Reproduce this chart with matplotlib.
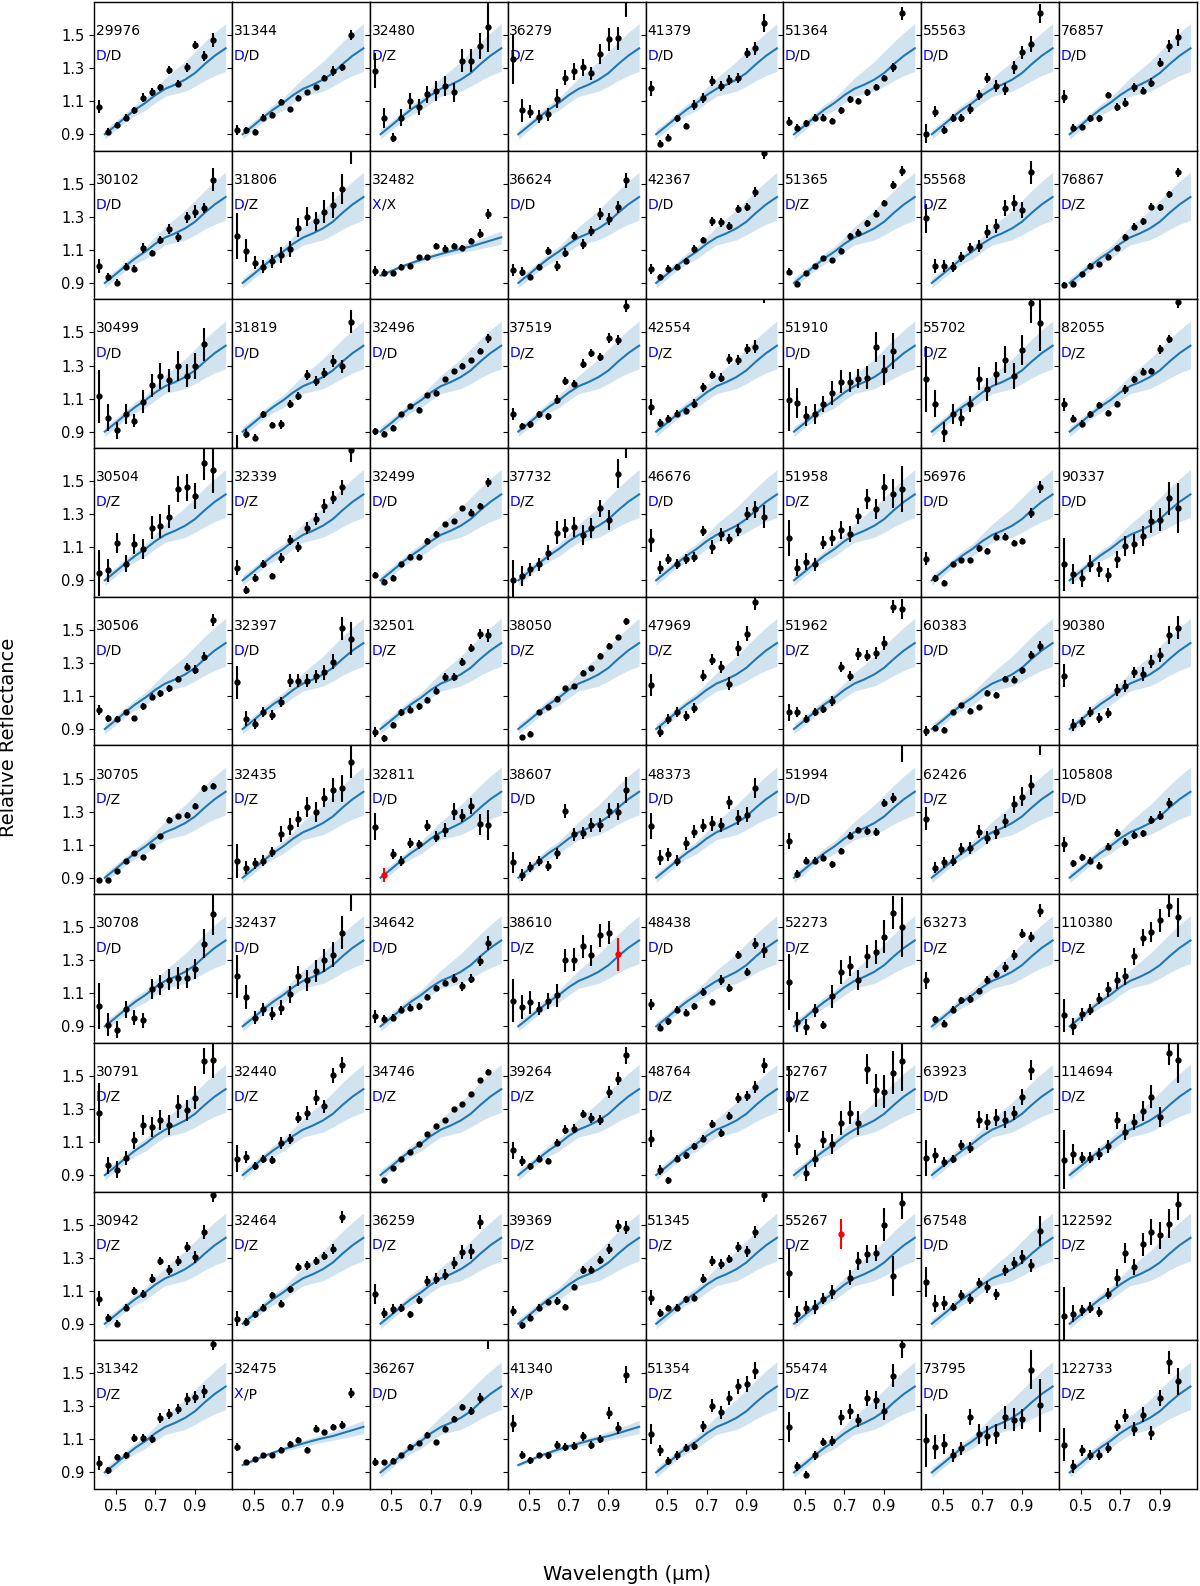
import numpy as np
import matplotlib
matplotlib.use('Agg')
import matplotlib.pyplot as plt

nan = float('nan')

# Gaia band centres (micron)
wl = [0.418, 0.462, 0.506, 0.550, 0.594, 0.638, 0.682, 0.726,
      0.770, 0.814, 0.858, 0.902, 0.946, 0.990]

# template grid and class templates (mean, lower, upper)
wl_tpl = [0.445, 0.50, 0.55, 0.60, 0.65, 0.70, 0.75, 0.80, 0.85, 0.90, 0.95, 1.00, 1.055]
d_mean = [0.90, 0.953, 1.003, 1.05, 1.09, 1.137, 1.175, 1.20, 1.23, 1.27, 1.325, 1.375, 1.42]
d_lo = [0.87, 0.925, 0.975, 1.015, 1.045, 1.09, 1.13, 1.145, 1.16, 1.19, 1.225, 1.255, 1.28]
d_hi = [0.93, 0.98, 1.03, 1.08, 1.12, 1.18, 1.24, 1.29, 1.34, 1.40, 1.46, 1.515, 1.57]
x_mean = [0.945, 0.972, 0.998, 1.02, 1.04, 1.058, 1.075, 1.092, 1.107, 1.12, 1.138, 1.156, 1.176]
x_lo = [0.935, 0.962, 0.988, 1.007, 1.025, 1.042, 1.057, 1.07, 1.083, 1.094, 1.107, 1.12, 1.135]
x_hi = [0.955, 0.982, 1.008, 1.032, 1.055, 1.075, 1.094, 1.113, 1.13, 1.147, 1.168, 1.19, 1.215]

ids = ['29976', '31344', '32480', '36279', '41379', '51364', '55563', '76857',
       '30102', '31806', '32482', '36624', '42367', '51365', '55568', '76867',
       '30499', '31819', '32496', '37519', '42554', '51910', '55702', '82055',
       '30504', '32339', '32499', '37732', '46676', '51958', '56976', '90337',
       '30506', '32397', '32501', '38050', '47969', '51962', '60383', '90380',
       '30705', '32435', '32811', '38607', '48373', '51994', '62426', '105808',
       '30708', '32437', '34642', '38610', '48438', '52273', '63273', '110380',
       '30791', '32440', '34746', '39264', '48764', '52767', '63923', '114694',
       '30942', '32464', '36259', '39369', '51345', '55267', '67548', '122592',
       '31342', '32475', '36267', '41340', '51354', '55474', '73795', '122733']

cls_a = ['D', 'D', 'D', 'D', 'D', 'D', 'D', 'D',
         'D', 'D', 'X', 'D', 'D', 'D', 'D', 'D',
         'D', 'D', 'D', 'D', 'D', 'D', 'D', 'D',
         'D', 'D', 'D', 'D', 'D', 'D', 'D', 'D',
         'D', 'D', 'D', 'D', 'D', 'D', 'D', 'D',
         'D', 'D', 'D', 'D', 'D', 'D', 'D', 'D',
         'D', 'D', 'D', 'D', 'D', 'D', 'D', 'D',
         'D', 'D', 'D', 'D', 'D', 'D', 'D', 'D',
         'D', 'D', 'D', 'D', 'D', 'D', 'D', 'D',
         'D', 'X', 'D', 'X', 'D', 'D', 'D', 'D']

cls_b = ['D', 'D', 'Z', 'Z', 'D', 'D', 'D', 'D',
         'D', 'Z', 'X', 'D', 'D', 'Z', 'Z', 'Z',
         'D', 'D', 'D', 'Z', 'Z', 'D', 'Z', 'Z',
         'Z', 'Z', 'D', 'Z', 'D', 'Z', 'D', 'D',
         'D', 'D', 'Z', 'Z', 'Z', 'Z', 'D', 'Z',
         'Z', 'Z', 'D', 'D', 'D', 'D', 'Z', 'D',
         'D', 'D', 'D', 'Z', 'D', 'Z', 'Z', 'Z',
         'Z', 'Z', 'Z', 'Z', 'Z', 'Z', 'D', 'Z',
         'Z', 'Z', 'Z', 'Z', 'Z', 'Z', 'D', 'Z',
         'Z', 'P', 'D', 'P', 'Z', 'Z', 'D', 'Z']

refl = [
    [1.066, 0.916, 0.955, 1.001, 1.045, 1.122, 1.157, 1.183, 1.288, 1.207, 1.304, 1.44, 1.375, 1.47],
    [0.924, 0.924, 0.914, 1.0, 1.017, 1.096, 1.05, 1.122, 1.153, 1.183, 1.24, 1.284, 1.304, 1.498],
    [1.284, 1.0, 0.88, 1.0, 1.102, 1.066, 1.142, 1.163, 1.19, 1.153, 1.344, 1.344, 1.435, 1.55],
    [1.355, 1.045, 1.037, 1.005, 1.021, 1.116, 1.243, 1.28, 1.304, 1.268, 1.385, 1.476, 1.482, 1.75],
    [1.179, 0.843, 0.88, 0.997, 0.95, 1.078, 1.122, 1.223, 1.193, 1.227, 1.24, 1.389, 1.42, 1.571],
    [0.977, 0.94, 0.965, 1.0, 1.0, 0.981, 1.045, 1.112, 1.102, 1.153, 1.187, 1.24, 1.304, 1.631],
    [0.904, 1.037, 0.924, 0.997, 0.997, 1.052, 1.138, 1.24, 1.193, 1.173, 1.304, 1.395, 1.445, 1.631],
    [1.126, 0.94, 0.944, 0.997, 0.997, 1.138, 1.066, 1.092, 1.183, 1.163, 1.213, 1.334, 1.435, 1.486],
    [1.003, 0.936, 0.902, 0.999, 0.987, 1.11, 1.08, 1.159, 1.225, 1.175, 1.296, 1.332, 1.353, 1.524],
    [1.185, 1.094, 1.023, 0.997, 1.03, 1.07, 1.104, 1.235, 1.302, 1.272, 1.332, 1.373, 1.468, 1.74],
    [0.973, 0.963, 0.959, 0.999, 1.003, 1.054, 1.054, 1.124, 1.108, 1.124, 1.114, 1.154, 1.199, 1.316],
    [0.977, 0.969, 0.936, 0.997, 1.094, 1.003, 1.084, 1.185, 1.134, 1.215, 1.316, 1.286, 1.361, 1.522],
    [0.983, 0.936, 0.987, 0.997, 1.033, 1.104, 1.159, 1.272, 1.266, 1.245, 1.346, 1.361, 1.448, 1.684],
    [0.969, 0.896, 0.957, 1.001, 1.049, 1.037, 1.094, 1.181, 1.205, 1.26, 1.32, 1.383, 1.494, 1.575],
    [1.29, 1.003, 1.003, 0.999, 1.058, 1.114, 1.124, 1.211, 1.245, 1.353, 1.383, 1.342, 1.569, nan],
    [0.888, 0.896, 0.953, 1.003, 1.013, 1.058, 1.114, 1.175, 1.241, 1.272, 1.361, 1.357, 1.437, 1.569],
    [1.114, 0.985, 0.908, 1.009, 0.965, 1.08, 1.181, 1.235, 1.211, 1.296, 1.239, 1.296, 1.429, nan],
    [0.78, 0.888, 0.864, 1.005, 0.939, 0.943, 1.066, 1.117, 1.242, 1.207, 1.256, 1.327, 1.296, 1.565],
    [0.902, 0.888, 0.924, 1.005, 1.053, 1.033, 1.12, 1.135, 1.217, 1.265, 1.3, 1.332, 1.389, 1.464],
    [1.005, 0.934, 0.943, 1.005, 0.993, 1.094, 1.207, 1.191, 1.312, 1.377, 1.353, 1.468, 1.454, 1.662],
    [1.05, 0.953, 0.979, 1.009, 1.025, 1.07, 1.167, 1.242, 1.227, 1.342, 1.336, 1.399, 1.413, 1.74],
    [1.094, 1.074, 0.993, 1.009, 1.066, 1.134, 1.201, 1.201, 1.221, 1.227, 1.413, 1.272, 1.389, nan],
    [1.221, 1.07, 0.898, 1.009, 0.985, 1.066, 1.221, 1.155, 1.251, 1.336, 1.235, 1.393, 1.676, 1.555],
    [1.066, 0.979, 0.948, 1.005, 1.06, 1.013, 1.066, 1.155, 1.217, 1.262, 1.266, 1.397, 1.46, 1.686],
    [0.946, 0.961, 1.128, 1.001, 1.122, 1.088, 1.219, 1.229, 1.284, 1.452, 1.462, 1.411, 1.607, 1.567],
    [0.977, 0.839, 0.912, 0.997, 0.926, 1.037, 1.142, 1.104, 1.215, 1.27, 1.35, 1.401, 1.462, 1.688],
    [0.932, 0.892, 0.916, 0.997, 1.043, 1.043, 1.138, 1.183, 1.239, 1.256, 1.336, 1.31, 1.35, 1.492],
    [0.9, 0.926, 0.967, 0.997, 1.068, 1.189, 1.213, 1.223, 1.175, 1.219, 1.336, 1.264, 1.546, 1.72],
    [1.142, 0.977, 1.027, 1.001, 1.027, 1.041, 1.199, 1.102, 1.179, 1.148, 1.203, 1.304, 1.33, 1.284],
    [1.155, 0.977, 1.013, 0.997, 1.128, 1.155, 1.203, 1.179, 1.29, 1.391, 1.33, 1.462, 1.425, 1.452],
    [1.031, 0.912, 0.886, 0.997, 1.021, 1.021, 1.094, 1.078, 1.165, 1.165, 1.128, 1.138, 1.31, 1.466],
    [0.997, 0.936, 0.912, 1.001, 0.967, 0.932, 1.027, 1.108, 1.118, 1.169, 1.256, 1.266, 1.397, 1.336],
    [1.017, 0.965, 0.961, 1.001, 0.965, 1.037, 1.096, 1.116, 1.146, 1.203, 1.274, 1.26, 1.338, 1.561],
    [1.183, 0.961, 0.93, 1.001, 0.987, 1.062, 1.193, 1.193, 1.193, 1.219, 1.243, 1.308, 1.51, 1.445],
    [0.88, 0.843, 0.924, 1.001, 1.017, 1.037, 1.076, 1.132, 1.213, 1.213, 1.304, 1.389, 1.476, 1.466],
    [nan, 0.849, 0.87, 1.001, 1.031, 1.082, 1.146, 1.159, 1.239, 1.268, 1.344, 1.405, 1.456, 1.551],
    [1.167, 0.884, 0.961, 1.001, 0.981, 1.025, 1.223, 1.32, 1.274, 1.173, 1.389, 1.476, 1.668, nan],
    [1.001, 1.001, 0.961, 1.001, 1.021, 1.072, 1.274, 1.219, 1.354, 1.344, 1.36, 1.421, 1.641, 1.627],
    [0.89, 0.906, 0.894, 1.001, 1.045, 1.011, 1.031, 1.118, 1.108, 1.203, 1.199, 1.254, 1.348, 1.405],
    [1.223, 0.924, 0.944, 1.001, 0.965, 0.997, 1.136, 1.159, 1.243, 1.233, 1.308, 1.348, 1.47, 1.512],
    [0.886, 0.886, 0.942, 1.003, 1.047, 1.027, 1.092, 1.155, 1.25, 1.272, 1.28, 1.334, 1.441, 1.454],
    [1.001, 0.961, 0.987, 1.003, 1.058, 1.163, 1.209, 1.256, 1.33, 1.296, 1.385, 1.431, 1.441, 1.603],
    [1.209, 0.916, 1.041, 1.003, 1.108, 1.101, 1.215, 1.148, 1.189, 1.3, 1.276, 1.334, 1.223, 1.219],
    [0.993, 0.916, 0.967, 1.003, 0.973, 1.047, 1.304, 1.163, 1.169, 1.219, 1.219, 1.304, 1.3, 1.431],
    [1.213, 1.021, 1.041, 1.003, 1.108, 1.179, 1.215, 1.229, 1.219, 1.357, 1.264, 1.28, 1.441, nan],
    [1.122, 0.92, 1.003, 1.003, 1.021, 0.981, 1.062, 1.155, 1.189, 1.183, 1.175, 1.35, 1.381, 1.72],
    [1.256, 0.961, 0.993, 1.003, 1.074, 1.078, 1.179, 1.142, 1.175, 1.243, 1.344, 1.391, 1.462, 1.74],
    [1.102, 0.987, 1.023, 1.003, 0.973, 1.088, 1.169, 1.118, 1.159, 1.169, 1.25, 1.276, 1.35, nan],
    [1.021, 0.91, 0.88, 1.003, 0.951, 0.936, 1.128, 1.148, 1.183, 1.193, 1.193, 1.245, 1.401, 1.583],
    [1.203, 1.078, 0.953, 1.003, 0.977, 1.013, 1.094, 1.203, 1.179, 1.235, 1.3, 1.334, 1.466, 1.74],
    [0.961, 0.946, 0.953, 1.001, 1.013, 1.021, 1.078, 1.132, 1.163, 1.189, 1.142, 1.189, 1.294, 1.405],
    [1.054, 1.017, 1.047, 1.007, 1.054, 1.088, 1.3, 1.304, 1.385, 1.33, 1.452, 1.466, 1.336, nan],
    [1.033, 0.892, 0.93, 1.001, 0.983, 1.021, 1.108, 1.047, 1.179, 1.132, 1.33, 1.229, 1.401, 1.361],
    [1.169, 0.926, 0.896, 0.997, 0.91, 1.082, 1.229, 1.264, 1.183, 1.324, 1.35, 1.441, 1.587, 1.502],
    [1.179, 0.942, 0.916, 1.001, 1.058, 1.064, 1.114, 1.179, 1.219, 1.26, 1.33, 1.462, 1.441, 1.599],
    [0.967, 0.9, 0.973, 1.001, 1.068, 1.124, 1.179, 1.203, 1.324, 1.437, 1.472, 1.543, 1.63, 1.559],
    [1.276, 0.959, 0.932, 1.003, 1.11, 1.201, 1.191, 1.235, 1.201, 1.316, 1.292, 1.369, 1.591, 1.595],
    [0.999, 1.009, 0.953, 0.999, 0.993, 1.094, 1.12, 1.247, 1.276, 1.369, 1.316, 1.504, 1.565, nan],
    [nan, 0.872, 0.942, 0.999, 1.039, 1.086, 1.151, 1.195, 1.235, 1.302, 1.328, 1.393, 1.474, 1.524],
    [1.049, 0.985, 0.953, 0.999, 0.985, 1.096, 1.175, 1.181, 1.268, 1.247, 1.235, 1.403, 1.484, 1.625],
    [1.12, 0.928, 0.868, 0.999, 1.019, 1.074, 1.12, 1.211, 1.155, 1.256, 1.369, 1.377, 1.433, 1.565],
    [1.363, 1.08, 0.912, 0.999, 1.114, 1.086, 1.215, 1.276, 1.215, 1.544, 1.413, 1.403, 1.518, 1.591],
    [1.005, 1.019, 0.979, 0.999, 1.08, 1.066, 1.235, 1.221, 1.247, 1.235, 1.276, 1.373, 1.534, nan],
    [0.993, 1.029, 1.005, 1.005, 1.029, 1.074, 1.231, 1.161, 1.221, 1.288, 1.373, 1.252, 1.639, 1.599],
    [1.052, 0.936, 0.9, 0.997, 1.098, 1.078, 1.173, 1.278, 1.225, 1.278, 1.365, 1.304, 1.455, 1.678],
    [0.93, 0.91, 0.957, 0.997, 1.072, 1.021, 1.108, 1.243, 1.253, 1.28, 1.308, 1.355, 1.547, nan],
    [1.078, 0.967, 0.991, 0.997, 0.957, 1.045, 1.159, 1.173, 1.197, 1.268, 1.334, 1.338, 1.516, nan],
    [0.977, 0.89, 0.936, 0.997, 1.031, 1.037, 1.001, 1.122, 1.223, 1.227, 1.284, 1.355, 1.49, 1.482],
    [1.058, 0.965, 0.995, 0.997, 1.047, 1.058, 1.173, 1.28, 1.26, 1.294, 1.365, 1.338, 1.455, 1.678],
    [1.207, 0.957, 0.997, 1.001, 1.052, 1.092, 1.445, 1.179, 1.28, 1.324, 1.328, 1.5, 1.187, 1.631],
    [1.153, 1.021, 1.025, 1.001, 1.076, 1.052, 1.146, 1.122, 1.078, 1.223, 1.268, 1.304, 1.254, 1.462],
    [0.944, 0.961, 0.981, 0.997, 0.971, 1.082, 1.179, 1.328, 1.243, 1.381, 1.455, 1.435, 1.506, 1.627],
    [0.957, 0.912, 0.993, 1.003, 1.108, 1.108, 1.102, 1.229, 1.256, 1.284, 1.344, 1.357, 1.391, 1.68],
    [1.054, 0.961, 0.981, 1.003, 1.003, 1.037, 1.074, 1.098, 1.037, 1.165, 1.144, 1.175, 1.189, 1.381],
    [0.961, 0.961, 0.971, 1.003, 1.054, 1.078, 1.128, 1.084, 1.163, 1.224, 1.296, 1.27, 1.35, 1.74],
    [1.195, 1.007, 0.973, 1.003, 1.003, 1.068, 1.054, 1.062, 1.118, 1.068, 1.102, 1.26, 1.169, 1.492],
    [1.134, 1.033, 0.967, 1.003, 1.047, 1.058, 1.179, 1.304, 1.264, 1.35, 1.421, 1.435, 1.516, nan],
    [1.175, 0.936, 0.886, 1.003, 1.084, 1.088, 1.235, 1.27, 1.215, 1.35, 1.336, 1.27, 1.486, 1.674],
    [1.094, 1.054, 1.074, 1.003, 1.047, 1.236, 1.135, 1.122, 1.134, 1.233, 1.219, 1.223, 1.522, 1.306],
    [1.068, 0.936, 1.033, 1.003, 1.007, 1.047, 1.183, 1.243, 1.163, 1.25, 1.138, 1.35, 1.567, 1.451],
]

err = [
    [0.04, 0.02, 0.02, 0.02, 0.02, 0.025, 0.025, 0.02, 0.025, 0.02, 0.025, 0.025, 0.03, 0.04],
    [0.03, 0.02, 0.015, 0.02, 0.015, 0.02, 0.015, 0.015, 0.015, 0.015, 0.02, 0.03, 0.02, 0.03],
    [0.105, 0.06, 0.03, 0.05, 0.05, 0.05, 0.05, 0.06, 0.06, 0.06, 0.07, 0.07, 0.08, 0.15],
    [0.15, 0.07, 0.04, 0.04, 0.04, 0.06, 0.045, 0.05, 0.05, 0.04, 0.06, 0.07, 0.07, 0.14],
    [0.045, 0.02, 0.02, 0.02, 0.02, 0.03, 0.03, 0.03, 0.03, 0.03, 0.03, 0.03, 0.04, 0.055],
    [0.03, 0.02, 0.02, 0.02, 0.02, 0.02, 0.02, 0.02, 0.02, 0.02, 0.02, 0.02, 0.025, 0.04],
    [0.06, 0.035, 0.025, 0.025, 0.025, 0.03, 0.03, 0.03, 0.035, 0.035, 0.04, 0.04, 0.05, 0.06],
    [0.04, 0.02, 0.02, 0.02, 0.02, 0.02, 0.025, 0.025, 0.025, 0.02, 0.025, 0.025, 0.035, 0.05],
    [0.04, 0.025, 0.02, 0.02, 0.02, 0.03, 0.02, 0.025, 0.03, 0.025, 0.035, 0.04, 0.03, 0.07],
    [0.14, 0.07, 0.04, 0.04, 0.04, 0.05, 0.05, 0.06, 0.06, 0.06, 0.07, 0.08, 0.09, 0.12],
    [0.03, 0.02, 0.015, 0.015, 0.015, 0.015, 0.015, 0.02, 0.02, 0.02, 0.015, 0.02, 0.025, 0.03],
    [0.035, 0.03, 0.02, 0.02, 0.025, 0.03, 0.025, 0.025, 0.03, 0.03, 0.035, 0.035, 0.035, 0.045],
    [0.03, 0.02, 0.02, 0.02, 0.02, 0.025, 0.02, 0.025, 0.025, 0.025, 0.025, 0.025, 0.03, 0.035],
    [0.02, 0.015, 0.015, 0.015, 0.015, 0.015, 0.015, 0.02, 0.02, 0.02, 0.02, 0.02, 0.025, 0.03],
    [0.09, 0.04, 0.035, 0.03, 0.03, 0.03, 0.035, 0.04, 0.04, 0.05, 0.05, 0.05, 0.07, 0.08],
    [0.02, 0.015, 0.015, 0.015, 0.015, 0.015, 0.015, 0.02, 0.02, 0.02, 0.02, 0.02, 0.02, 0.025],
    [0.16, 0.08, 0.05, 0.06, 0.04, 0.07, 0.07, 0.08, 0.07, 0.09, 0.07, 0.08, 0.1, 0.12],
    [0.1, 0.025, 0.02, 0.02, 0.02, 0.025, 0.025, 0.025, 0.03, 0.03, 0.03, 0.035, 0.04, 0.07],
    [0.02, 0.015, 0.015, 0.015, 0.015, 0.015, 0.015, 0.015, 0.015, 0.015, 0.015, 0.015, 0.02, 0.025],
    [0.035, 0.02, 0.02, 0.02, 0.02, 0.025, 0.025, 0.02, 0.03, 0.025, 0.025, 0.03, 0.03, 0.04],
    [0.05, 0.025, 0.02, 0.02, 0.02, 0.025, 0.03, 0.025, 0.025, 0.03, 0.03, 0.03, 0.04, 0.06],
    [0.19, 0.09, 0.06, 0.06, 0.05, 0.07, 0.07, 0.06, 0.06, 0.07, 0.09, 0.09, 0.11, 0.12],
    [0.2, 0.08, 0.06, 0.06, 0.05, 0.05, 0.07, 0.07, 0.07, 0.08, 0.08, 0.09, 0.12, 0.17],
    [0.04, 0.02, 0.02, 0.02, 0.02, 0.02, 0.02, 0.025, 0.02, 0.02, 0.02, 0.025, 0.025, 0.04],
    [0.14, 0.07, 0.06, 0.05, 0.06, 0.06, 0.07, 0.07, 0.07, 0.08, 0.08, 0.08, 0.1, 0.14],
    [0.045, 0.025, 0.025, 0.025, 0.02, 0.03, 0.03, 0.03, 0.035, 0.035, 0.04, 0.04, 0.045, 0.075],
    [0.02, 0.015, 0.015, 0.015, 0.015, 0.015, 0.015, 0.015, 0.015, 0.015, 0.015, 0.02, 0.02, 0.025],
    [0.12, 0.06, 0.04, 0.04, 0.045, 0.07, 0.06, 0.06, 0.06, 0.06, 0.05, 0.06, 0.09, 0.08],
    [0.07, 0.04, 0.03, 0.03, 0.03, 0.03, 0.03, 0.04, 0.04, 0.03, 0.035, 0.04, 0.05, 0.07],
    [0.11, 0.05, 0.05, 0.04, 0.04, 0.05, 0.055, 0.05, 0.05, 0.06, 0.06, 0.08, 0.09, 0.14],
    [0.04, 0.02, 0.015, 0.015, 0.015, 0.015, 0.02, 0.015, 0.02, 0.02, 0.015, 0.015, 0.03, 0.035],
    [0.16, 0.06, 0.05, 0.05, 0.045, 0.04, 0.05, 0.06, 0.06, 0.06, 0.07, 0.07, 0.1, 0.15],
    [0.03, 0.02, 0.015, 0.015, 0.015, 0.02, 0.02, 0.02, 0.02, 0.02, 0.025, 0.025, 0.025, 0.035],
    [0.1, 0.045, 0.03, 0.03, 0.03, 0.03, 0.04, 0.04, 0.04, 0.04, 0.045, 0.045, 0.07, 0.1],
    [0.03, 0.02, 0.02, 0.02, 0.02, 0.02, 0.02, 0.02, 0.025, 0.025, 0.025, 0.025, 0.03, 0.04],
    [0.02, 0.015, 0.015, 0.015, 0.015, 0.015, 0.015, 0.015, 0.015, 0.015, 0.015, 0.015, 0.015, 0.02],
    [0.065, 0.035, 0.03, 0.03, 0.03, 0.03, 0.035, 0.035, 0.035, 0.04, 0.045, 0.045, 0.05, 0.06],
    [0.05, 0.03, 0.025, 0.025, 0.025, 0.03, 0.03, 0.03, 0.035, 0.035, 0.035, 0.04, 0.04, 0.06],
    [0.03, 0.02, 0.015, 0.015, 0.015, 0.015, 0.015, 0.015, 0.015, 0.02, 0.02, 0.02, 0.025, 0.03],
    [0.07, 0.035, 0.03, 0.03, 0.03, 0.03, 0.035, 0.035, 0.035, 0.04, 0.04, 0.045, 0.055, 0.07],
    [0.015, 0.01, 0.01, 0.01, 0.01, 0.01, 0.01, 0.01, 0.015, 0.015, 0.015, 0.015, 0.02, 0.02],
    [0.1, 0.04, 0.035, 0.035, 0.03, 0.05, 0.05, 0.05, 0.06, 0.06, 0.06, 0.07, 0.08, 0.1],
    [0.08, 0.04, 0.03, 0.03, 0.03, 0.03, 0.035, 0.035, 0.04, 0.05, 0.04, 0.05, 0.065, 0.09],
    [0.065, 0.035, 0.03, 0.03, 0.03, 0.035, 0.04, 0.04, 0.035, 0.04, 0.04, 0.045, 0.05, 0.08],
    [0.08, 0.045, 0.04, 0.035, 0.04, 0.04, 0.04, 0.045, 0.045, 0.04, 0.045, 0.045, 0.06, 0.07],
    [0.05, 0.025, 0.02, 0.02, 0.02, 0.02, 0.02, 0.02, 0.02, 0.025, 0.025, 0.025, 0.03, 0.12],
    [0.07, 0.035, 0.035, 0.035, 0.035, 0.035, 0.04, 0.04, 0.04, 0.045, 0.05, 0.055, 0.06, 0.1],
    [0.045, 0.02, 0.02, 0.02, 0.02, 0.02, 0.025, 0.025, 0.025, 0.02, 0.025, 0.025, 0.03, 0.04],
    [0.14, 0.07, 0.05, 0.05, 0.045, 0.045, 0.06, 0.06, 0.065, 0.065, 0.06, 0.06, 0.09, 0.13],
    [0.13, 0.07, 0.04, 0.04, 0.04, 0.045, 0.05, 0.06, 0.065, 0.065, 0.07, 0.075, 0.1, 0.14],
    [0.04, 0.025, 0.02, 0.02, 0.02, 0.02, 0.02, 0.02, 0.02, 0.025, 0.025, 0.025, 0.03, 0.04],
    [0.13, 0.07, 0.07, 0.04, 0.05, 0.07, 0.07, 0.07, 0.07, 0.065, 0.07, 0.07, 0.1, 0.12],
    [0.035, 0.02, 0.02, 0.02, 0.02, 0.02, 0.025, 0.02, 0.03, 0.025, 0.025, 0.025, 0.035, 0.045],
    [0.17, 0.06, 0.05, 0.04, 0.025, 0.07, 0.07, 0.06, 0.06, 0.07, 0.07, 0.1, 0.1, 0.18],
    [0.05, 0.02, 0.02, 0.02, 0.02, 0.025, 0.02, 0.025, 0.025, 0.03, 0.03, 0.025, 0.03, 0.04],
    [0.1, 0.05, 0.04, 0.035, 0.035, 0.045, 0.05, 0.05, 0.05, 0.05, 0.06, 0.07, 0.07, 0.12],
    [0.18, 0.05, 0.05, 0.04, 0.05, 0.06, 0.06, 0.06, 0.06, 0.07, 0.065, 0.07, 0.08, 0.11],
    [0.08, 0.035, 0.025, 0.025, 0.025, 0.035, 0.03, 0.035, 0.04, 0.045, 0.04, 0.045, 0.05, 0.06],
    [0.01, 0.01, 0.01, 0.01, 0.01, 0.01, 0.01, 0.01, 0.01, 0.01, 0.01, 0.01, 0.01, 0.015],
    [0.05, 0.03, 0.02, 0.02, 0.02, 0.02, 0.025, 0.025, 0.025, 0.03, 0.03, 0.035, 0.04, 0.05],
    [0.05, 0.03, 0.02, 0.02, 0.02, 0.02, 0.02, 0.025, 0.025, 0.025, 0.03, 0.03, 0.035, 0.045],
    [0.2, 0.06, 0.05, 0.05, 0.05, 0.06, 0.07, 0.07, 0.07, 0.09, 0.1, 0.1, 0.13, 0.18],
    [0.11, 0.045, 0.03, 0.025, 0.03, 0.035, 0.05, 0.05, 0.05, 0.05, 0.04, 0.05, 0.06, 0.07],
    [0.18, 0.06, 0.035, 0.035, 0.035, 0.04, 0.05, 0.05, 0.05, 0.06, 0.07, 0.06, 0.07, 0.14],
    [0.045, 0.025, 0.02, 0.02, 0.025, 0.025, 0.025, 0.025, 0.03, 0.03, 0.03, 0.035, 0.04, 0.04],
    [0.045, 0.025, 0.02, 0.02, 0.02, 0.02, 0.02, 0.025, 0.025, 0.025, 0.025, 0.03, 0.035, 0.04],
    [0.06, 0.03, 0.03, 0.025, 0.02, 0.025, 0.03, 0.035, 0.035, 0.035, 0.04, 0.045, 0.045, 0.05],
    [0.03, 0.02, 0.02, 0.02, 0.02, 0.025, 0.02, 0.02, 0.025, 0.025, 0.025, 0.03, 0.035, 0.04],
    [0.045, 0.025, 0.02, 0.02, 0.02, 0.02, 0.025, 0.03, 0.03, 0.025, 0.03, 0.035, 0.035, 0.04],
    [0.15, 0.05, 0.04, 0.04, 0.035, 0.04, 0.09, 0.045, 0.055, 0.055, 0.05, 0.1, 0.12, 0.1],
    [0.09, 0.05, 0.04, 0.025, 0.03, 0.03, 0.03, 0.035, 0.035, 0.035, 0.035, 0.04, 0.04, 0.09],
    [0.18, 0.05, 0.035, 0.035, 0.03, 0.035, 0.05, 0.06, 0.05, 0.07, 0.08, 0.08, 0.09, 0.1],
    [0.04, 0.02, 0.02, 0.02, 0.025, 0.025, 0.025, 0.03, 0.03, 0.03, 0.035, 0.035, 0.04, 0.04],
    [0.025, 0.015, 0.015, 0.01, 0.01, 0.015, 0.015, 0.015, 0.015, 0.02, 0.015, 0.02, 0.025, 0.03],
    [0.025, 0.015, 0.015, 0.01, 0.015, 0.015, 0.015, 0.015, 0.02, 0.02, 0.02, 0.025, 0.03, 0.09],
    [0.05, 0.025, 0.02, 0.015, 0.02, 0.025, 0.025, 0.025, 0.025, 0.025, 0.025, 0.035, 0.035, 0.05],
    [0.06, 0.035, 0.025, 0.025, 0.025, 0.025, 0.035, 0.04, 0.04, 0.04, 0.045, 0.05, 0.05, 0.06],
    [0.09, 0.03, 0.02, 0.025, 0.025, 0.03, 0.045, 0.045, 0.04, 0.05, 0.055, 0.05, 0.07, 0.08],
    [0.16, 0.07, 0.06, 0.04, 0.04, 0.05, 0.06, 0.06, 0.06, 0.07, 0.07, 0.06, 0.12, 0.16],
    [0.1, 0.04, 0.035, 0.03, 0.03, 0.03, 0.035, 0.04, 0.04, 0.045, 0.04, 0.05, 0.07, 0.08],
]

# points flagged in red (asteroid id -> band index)
flagged = {'32811': 1, '38610': 12, '55267': 6}

fig, axes = plt.subplots(10, 8, figsize=(12, 15.86), dpi=100, sharex=True, sharey=True)
fig.subplots_adjust(left=0.0786, right=0.9975, top=0.9987, bottom=0.0612,
                    wspace=0, hspace=0)

for k, ax in enumerate(axes.flat):
    if cls_a[k] == 'X':
        m, lo, hi = x_mean, x_lo, x_hi
    else:
        m, lo, hi = d_mean, d_lo, d_hi
    ax.fill_between(wl_tpl, lo, hi, color='tab:blue', alpha=0.2, lw=0, zorder=1)
    ax.plot(wl_tpl, m, color='tab:blue', lw=1.5, zorder=2)

    y = np.array(refl[k])
    e = np.array(err[k])
    w = np.array(wl)
    good = np.ones(len(y), bool)
    if ids[k] in flagged:
        i = flagged[ids[k]]
        good[i] = False
        ax.errorbar(w[i], y[i], yerr=e[i], fmt='o', color='red', ms=3.5,
                    elinewidth=1.5, capsize=0, zorder=4)
    ax.errorbar(w[good], y[good], yerr=e[good], fmt='o', color='black', ms=3.5,
                elinewidth=1.5, capsize=0, zorder=4)

    ax.text(0.40, 1.5, ids[k], fontsize=10, zorder=1)
    ax.text(0.40, 1.35, cls_a[k], fontsize=10, color='blue', zorder=1)
    ax.text(0.452, 1.35, '/' + cls_b[k], fontsize=10, color='black', zorder=1)

    ax.set_xlim(0.392, 1.088)
    ax.set_ylim(0.8, 1.7)
    ax.set_xticks([0.5, 0.7, 0.9])
    ax.set_yticks([0.9, 1.1, 1.3, 1.5])
    ax.tick_params(labelsize=10.5)
    for s in ax.spines.values():
        s.set_linewidth(1.0)

fig.text(0.5225, 0.007, 'Wavelength (μm)', ha='center', va='center', fontsize=14)
fig.text(0.0075, 0.535, 'Relative Reflectance', rotation=90, ha='center',
         va='center', fontsize=14)

fig.savefig('out.png', dpi=100)
